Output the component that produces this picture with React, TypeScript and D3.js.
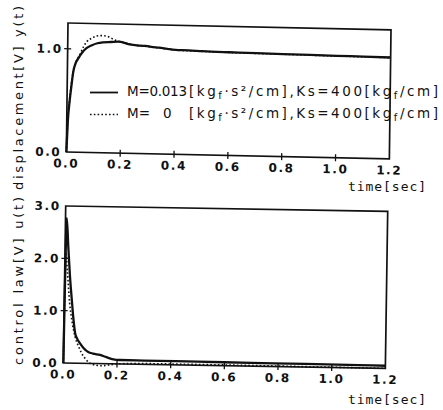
import React from 'react';
import * as d3 from 'd3';

// ---------- data ----------
const timeTicks = [0, 0.2, 0.4, 0.6, 0.8, 1.0, 1.2];
const dispYTicks = [0, 1.0];
const ctrlYTicks = [0, 1.0, 2.0, 3.0];

// displacement y(t), M = 0.013
const dispSolidT = [0, 0.004, 0.01, 0.016, 0.022, 0.03, 0.04, 0.055, 0.07, 0.09, 0.11, 0.13, 0.16, 0.19, 0.21, 0.23, 0.25, 0.27, 0.29, 0.31, 0.34, 0.37, 0.4, 0.45, 0.5, 0.6, 0.7, 0.8, 0.9, 1.0, 1.1, 1.2];
const dispSolidV = [0, 0.3, 0.5, 0.65, 0.78, 0.86, 0.91, 0.97, 1.01, 1.04, 1.06, 1.07, 1.075, 1.08, 1.07, 1.055, 1.05, 1.045, 1.045, 1.035, 1.03, 1.02, 1.012, 1.01, 1.005, 1.0, 0.997, 0.994, 0.991, 0.988, 0.986, 0.983];
// displacement y(t), M = 0
const dispDotT = [0, 0.004, 0.01, 0.02, 0.03, 0.046, 0.06, 0.07, 0.09, 0.107, 0.125, 0.145, 0.163, 0.18, 0.2, 0.22, 0.25, 0.3, 0.35, 0.4, 0.5, 0.6, 0.8, 1.0, 1.2];
const dispDotV = [0, 0.32, 0.52, 0.75, 0.86, 0.95, 1.03, 1.07, 1.11, 1.13, 1.135, 1.13, 1.11, 1.09, 1.075, 1.065, 1.05, 1.038, 1.025, 1.01, 1.003, 0.998, 0.992, 0.986, 0.981];

// control law u(t), M = 0.013
const ctrlSolidT = [0, 0.0045, 0.012, 0.02, 0.028, 0.035, 0.042, 0.05, 0.061, 0.075, 0.092, 0.11, 0.136, 0.16, 0.186, 0.21, 0.3, 0.5, 0.7, 0.9, 1.1, 1.2];
const ctrlSolidV = [0, 2.77, 2.22, 1.65, 1.21, 0.85, 0.58, 0.47, 0.38, 0.29, 0.22, 0.19, 0.165, 0.125, 0.086, 0.075, 0.072, 0.068, 0.063, 0.058, 0.053, 0.05];
// control law u(t), M = 0
const ctrlDotT = [0, 0.003, 0.01, 0.02, 0.03, 0.042, 0.055, 0.068, 0.085, 0.1, 0.12, 0.14, 0.17, 0.2, 0.3, 0.5, 0.8, 1.0, 1.2];
const ctrlDotV = [0, 2.1, 1.75, 1.15, 0.8, 0.51, 0.33, 0.19, 0.07, 0.0, -0.03, -0.04, -0.025, 0.0, 0.015, 0.015, 0.01, 0.005, 0.0];

const legendSolidA = 'M=0.013';
const legendDotA = 'M=';
const legendDotNum = '0';

const MONO = '"DejaVu Sans Mono", monospace';
const SANS = '"DejaVu Sans", sans-serif';

type PanelProps = {
  matrix: [number, number, number, number, number, number];
  W: number;
  H: number;
  yMax: number;
  yTicks: number[];
  solidT: number[];
  solidV: number[];
  dotT: number[];
  dotV: number[];
};

function Panel({ matrix, W, H, yMax, yTicks, solidT, solidV, dotT, dotV }: PanelProps) {
  const x = d3.scaleLinear().domain([0, 1.2]).range([0, W]);
  const y = d3.scaleLinear().domain([0, yMax]).range([H, 0]);
  const line = d3
    .line<[number, number]>()
    .x((d) => x(d[0]))
    .y((d) => y(d[1]))
    .curve(d3.curveMonotoneX);
  const solid = line(solidT.map((t, i) => [t, solidV[i]] as [number, number])) || '';
  const dot = line(dotT.map((t, i) => [t, dotV[i]] as [number, number])) || '';
  const tk = 3.5;
  return (
    <g transform={`matrix(${matrix.join(',')})`}>
      <path d={dot} fill="none" stroke="#111" strokeWidth={1.6} strokeDasharray="1.6,2.2" />
      <path d={solid} fill="none" stroke="#111" strokeWidth={2.3} strokeLinejoin="round" />
      <rect x={0} y={0} width={W} height={H} fill="none" stroke="#111" strokeWidth={1.7} />
      {timeTicks.slice(1, -1).map((t) => (
        <line key={'xt' + t} x1={x(t)} x2={x(t)} y1={H - tk} y2={H + tk} stroke="#111" strokeWidth={1.3} />
      ))}
      {yTicks.filter((v) => v > 0 && v < yMax).map((v) => (
        <line key={'yt' + v} x1={-tk} x2={tk} y1={y(v)} y2={y(v)} stroke="#111" strokeWidth={1.3} />
      ))}
      {timeTicks.map((t) => (
        <text key={'xl' + t} x={x(t)} y={H + 15.5} textAnchor="middle" fontFamily={SANS} fontWeight="bold" fontSize={12} letterSpacing={1.6} fill="#111">
          {t.toFixed(1)}
        </text>
      ))}
      {yTicks.map((v) => (
        <text key={'yl' + v} x={-5} y={y(v)} dy="0.36em" textAnchor="end" fontFamily={SANS} fontWeight="bold" fontSize={12} letterSpacing={1.6} fill="#111">
          {v.toFixed(1)}
        </text>
      ))}
    </g>
  );
}

function Unit() {
  return (
    <>
      [kg<tspan fontSize={10} dy={2.5}>f</tspan>
      <tspan dy={-2.5}>·s²/cm],Ks=400[kg</tspan>
      <tspan fontSize={10} dy={2.5}>f</tspan>
      <tspan dy={-2.5}>/cm]</tspan>
    </>
  );
}

export default function App() {
  return (
    <svg width={443} height={410} style={{ position: 'absolute', left: 0, top: 0, background: '#fff' }}>
      <rect x={0} y={0} width={443} height={410} fill="#fff" />
      <Panel
        matrix={[1, 0.0215, -0.0127, 1, 68, 23]}
        W={323}
        H={129}
        yMax={1.25}
        yTicks={dispYTicks}
        solidT={dispSolidT}
        solidV={dispSolidV}
        dotT={dispDotT}
        dotV={dispDotV}
      />
      <Panel
        matrix={[1, 0.0166, -0.015, 1, 65.7, 206]}
        W={322}
        H={157}
        yMax={3}
        yTicks={ctrlYTicks}
        solidT={ctrlSolidT}
        solidV={ctrlSolidV}
        dotT={ctrlDotT}
        dotV={ctrlDotV}
      />
      {/* legend */}
      <line x1={90} x2={118} y1={92.5} y2={92.5} stroke="#111" strokeWidth={1.8} />
      <line x1={90} x2={118} y1={114.5} y2={114.5} stroke="#111" strokeWidth={1.6} strokeDasharray="1.6,2.2" />
      <text x={127} y={96} fontFamily={SANS} fontSize={13.5} fill="#111" textLength={60} lengthAdjust="spacing">{legendSolidA}</text>
      <text x={189} y={96} fontFamily={SANS} fontSize={13.5} fill="#111" textLength={249} lengthAdjust="spacing"><Unit /></text>
      <text x={127} y={118} fontFamily={SANS} fontSize={13.5} fill="#111">{legendDotA}</text>
      <text x={163} y={118} fontFamily={SANS} fontSize={13.5} fill="#111">{legendDotNum}</text>
      <text x={189} y={118} fontFamily={SANS} fontSize={13.5} fill="#111" textLength={249} lengthAdjust="spacing"><Unit /></text>
      {/* axis titles */}
      <text x={348} y={191} fontFamily={MONO} fontSize={13} fill="#111" textLength={78} lengthAdjust="spacing">time[sec]</text>
      <text x={348} y={403.5} fontFamily={MONO} fontSize={13} fill="#111" textLength={78} lengthAdjust="spacing">time[sec]</text>
      <text transform="translate(23,190) rotate(-90)" x={0} y={0} fontFamily={SANS} fontSize={13} fill="#111" textLength={184} lengthAdjust="spacing">displacement[V] y(t)</text>
      <text transform="translate(23,365) rotate(-90)" x={0} y={0} fontFamily={SANS} fontSize={13} fill="#111" textLength={168} lengthAdjust="spacing">control law[V] u(t)</text>
    </svg>
  );
}
